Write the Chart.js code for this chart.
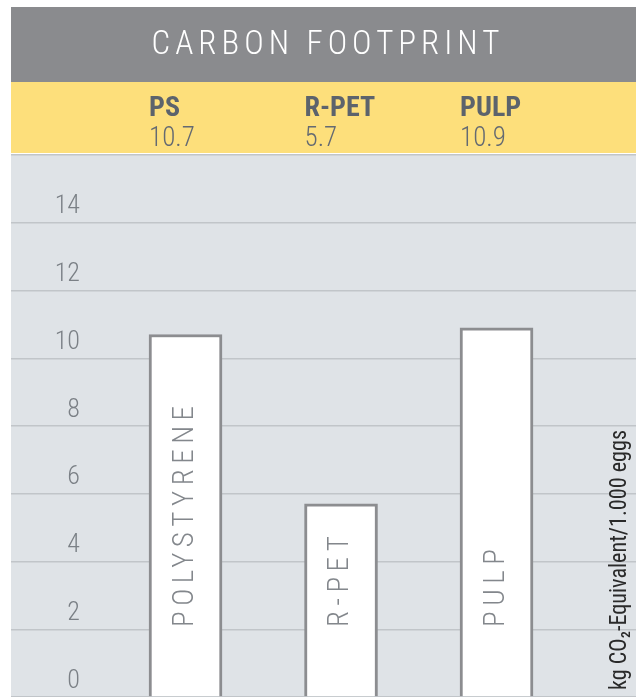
<!DOCTYPE html>
<html>
<head>
<meta charset="utf-8">
<script src="https://cdn.jsdelivr.net/npm/chart.js@4.4.0/dist/chart.umd.min.js"></script>
<style>
  html, body { margin: 0; padding: 0; background: #fff; }
  #wrap { width: 636px; height: 697px; position: relative; }
</style>
</head>
<body>
<div id="wrap"><canvas id="chart"></canvas></div>
<script>
const chartTitle = 'CARBON FOOTPRINT';
const materials = ['PS', 'R-PET', 'PULP'];
const barNames = ['POLYSTYRENE', 'R-PET', 'PULP'];
const footprint = [10.7, 5.7, 10.9];
const unitLabel = 'kg CO\u2082-Equivalent/1.000 eggs';

const FONT = '"Roboto Condensed", Roboto, "Liberation Sans Narrow", sans-serif';
const BAR_W = 73;

// header bands and plot background
const framePlugin = {
  id: 'frame',
  beforeDraw(chart) {
    const { ctx, chartArea } = chart;
    ctx.save();
    ctx.fillStyle = '#ffffff';
    ctx.fillRect(0, 0, chart.width, chart.height);
    ctx.fillStyle = '#8a8b8e';
    ctx.fillRect(11, 7, chart.width - 11, 75);
    ctx.fillStyle = '#fddf7b';
    ctx.fillRect(11, 82, chart.width - 11, 71);
    ctx.fillStyle = '#dfe3e7';
    ctx.fillRect(11, chartArea.top, chart.width - 11, chart.height - chartArea.top);

    ctx.fillStyle = '#ffffff';
    ctx.font = '300 33px ' + FONT;
    ctx.letterSpacing = '5px';
    ctx.textAlign = 'center';
    ctx.textBaseline = 'middle';
    ctx.fillText(chartTitle, 328, 46, 358);

    const x = chart.scales.x;
    ctx.textAlign = 'left';
    ctx.textBaseline = 'alphabetic';
    ctx.letterSpacing = '0px';
    materials.forEach((m, i) => {
      const left = x.getPixelForValue(i + 1) - BAR_W / 2;
      ctx.fillStyle = '#5c636c';
      ctx.font = 'bold 28px ' + FONT;
      ctx.fillText(m, left, 116);
      ctx.fillStyle = '#646a72';
      ctx.font = '300 27px ' + FONT;
      ctx.fillText(String(footprint[i]), left, 146);
    });
    ctx.restore();
  },
  afterDatasetsDraw(chart) {
    const { ctx, chartArea } = chart;
    const meta = chart.getDatasetMeta(0);
    ctx.save();
    ctx.fillStyle = '#83878c';
    ctx.font = '300 29px ' + FONT;
    ctx.letterSpacing = '5.5px';
    ctx.textAlign = 'left';
    ctx.textBaseline = 'middle';
    meta.data.forEach((bar, i) => {
      ctx.save();
      ctx.translate(bar.x, chartArea.bottom - 70);
      ctx.rotate(-Math.PI / 2);
      ctx.fillText(barNames[i], 0, 0);
      ctx.restore();
    });

    ctx.fillStyle = '#2a2a2a';
    ctx.font = '23px ' + FONT;
    ctx.letterSpacing = '0px';
    ctx.translate(chartArea.right - 16, chartArea.bottom - 7);
    ctx.rotate(-Math.PI / 2);
    ctx.fillText(unitLabel, 0, 0, 260);
    ctx.restore();
  }
};

new Chart(document.getElementById('chart'), {
  type: 'bar',
  data: {
    datasets: [{
      data: footprint.map((v, i) => ({ x: i + 1, y: v })),
      backgroundColor: '#ffffff',
      borderColor: '#8c8d90',
      borderWidth: 3,
      barThickness: BAR_W
    }]
  },
  options: {
    responsive: true,
    maintainAspectRatio: false,
    animation: false,
    devicePixelRatio: 1,
    layout: { padding: { top: 155, left: 11, right: 0, bottom: 0 } },
    plugins: {
      legend: { display: false },
      tooltip: { enabled: false }
    },
    scales: {
      x: {
        type: 'linear',
        min: 0.36,
        max: 3.897,
        offset: false,
        display: false
      },
      y: {
        min: 0,
        max: 16,
        // axis box 11..86, tick marks carry the grid lines across it
        afterFit: s => { s.width = 75; },
        border: { display: false },
        grid: { color: '#c1c5c9', lineWidth: 1.5, drawTicks: true, tickLength: 75 },
        ticks: {
          stepSize: 2,
          padding: -69,
          labelOffset: -16,
          color: '#7b8086',
          font: { family: FONT, size: 26, weight: '300' },
          callback: v => (v >= 16 ? '' : v)
        }
      }
    }
  },
  plugins: [framePlugin]
});
</script>
</body>
</html>
